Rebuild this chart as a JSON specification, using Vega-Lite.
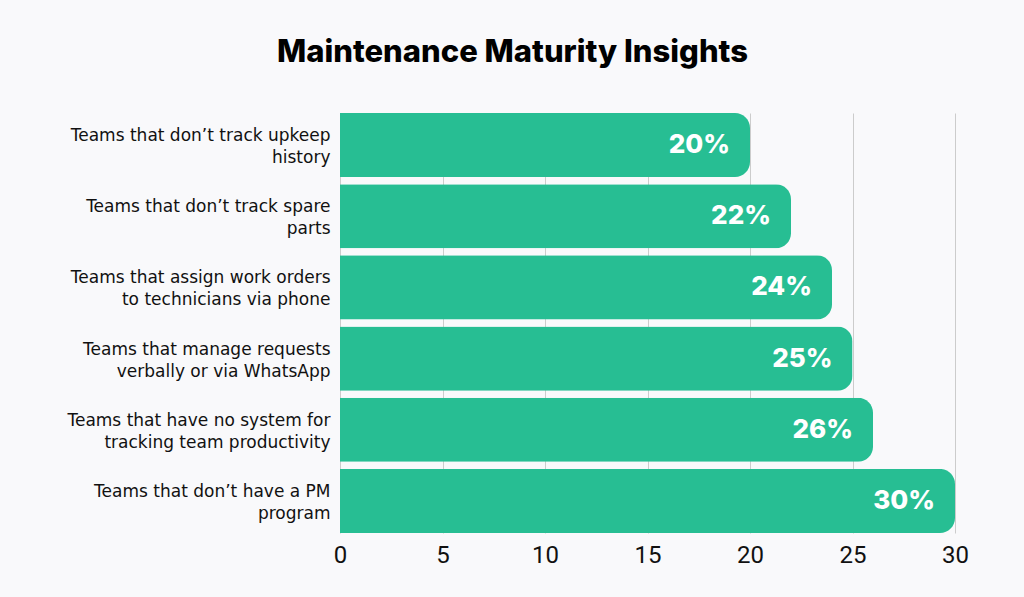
{
  "$schema": "https://vega.github.io/schema/vega-lite/v6.json",
  "width": 615,
  "height": 420,
  "autosize": {"type": "none"},
  "padding": {"left": 340, "top": 113, "right": 69, "bottom": 64},
  "background": "#f9f9fb",
  "title": {
    "text": "Maintenance Maturity Insights",
    "font": "Inter",
    "fontSize": 31,
    "fontWeight": 800,
    "color": "#000000",
    "anchor": "middle",
    "dx": -135,
    "offset": 44
  },
  "config": {"view": {"stroke": null}},
  "data": {
    "values": [
      {"category": "Teams that don’t track upkeep|history", "value": 20},
      {"category": "Teams that don’t track spare|parts", "value": 22},
      {"category": "Teams that assign work orders|to technicians via phone", "value": 24},
      {"category": "Teams that manage requests|verbally or via WhatsApp", "value": 25},
      {"category": "Teams that have no system for|tracking team productivity", "value": 26},
      {"category": "Teams that don’t have a PM|program", "value": 30}
    ]
  },
  "encoding": {
    "y": {
      "field": "category",
      "type": "nominal",
      "sort": null,
      "title": null,
      "scale": {"paddingInner": 0.1, "paddingOuter": 0},
      "axis": {
        "domain": false,
        "ticks": false,
        "labelExpr": "split(datum.label, '|')",
        "labelFont": "DejaVu Sans",
        "labelFontSize": 17,
        "labelColor": "#111111",
        "labelLineHeight": 22,
        "labelPadding": 10,
        "labelOffset": -9,
        "labelLimit": 340
      }
    },
    "x": {
      "field": "value",
      "type": "quantitative",
      "title": null,
      "scale": {"domain": [0, 30], "nice": false},
      "axis": {
        "values": [0, 5, 10, 15, 20, 25, 30],
        "domain": false,
        "ticks": false,
        "grid": true,
        "gridColor": "#cccccc",
        "gridWidth": 1,
        "labelFlush": false,
        "labelFont": "Roboto",
        "labelFontSize": 24,
        "labelColor": "#111111",
        "labelPadding": 10
      }
    }
  },
  "layer": [
    {
      "mark": {"type": "bar", "color": "#27be93", "cornerRadiusEnd": 15}
    },
    {
      "mark": {
        "type": "text",
        "align": "right",
        "baseline": "middle",
        "dx": -20,
        "color": "#ffffff",
        "font": "Inter",
        "fontSize": 26,
        "fontWeight": 800,
        "text": {"expr": "datum.value + '%'"}
      }
    }
  ]
}
